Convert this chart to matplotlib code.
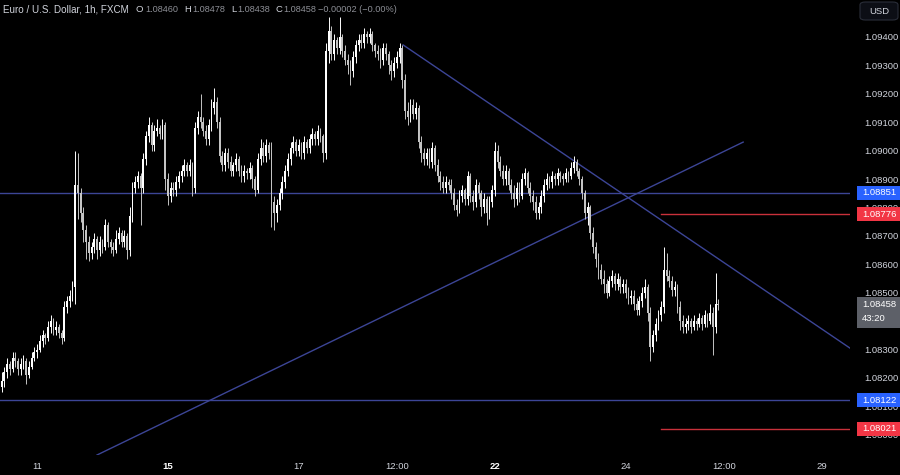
import numpy as np
import matplotlib.pyplot as plt
from matplotlib.patches import Rectangle, FancyBboxPatch

# EUR/USD 1h candles (open = previous close)
first_open = 1.0817
closes = [
    1.0819, 1.0822, 1.0825, 1.0823, 1.0827, 1.0826, 1.0823, 1.0825, 1.0826, 1.0821, 1.0824, 1.0827,
    1.0829, 1.0830, 1.0833, 1.0835, 1.0834, 1.0838, 1.0840, 1.0837, 1.0838, 1.0836, 1.0834, 1.0845,
    1.0847, 1.0849, 1.0852, 1.0888, 1.0885, 1.0878, 1.0872, 1.0868, 1.0864, 1.0866, 1.0869, 1.0865,
    1.0868, 1.0866, 1.0874, 1.0868, 1.0866, 1.0865, 1.0869, 1.0871, 1.0868, 1.0870, 1.0865, 1.0877,
    1.0887, 1.0889, 1.0891, 1.0887, 1.0897, 1.0905, 1.0909, 1.0902, 1.0907, 1.0908, 1.0906, 1.0909,
    1.0890, 1.0884, 1.0887, 1.0886, 1.0889, 1.0891, 1.0893, 1.0895, 1.0893, 1.0895, 1.0887, 1.0908,
    1.0912, 1.0910, 1.0907, 1.0904, 1.0909, 1.0915, 1.0917, 1.0910, 1.0898, 1.0895, 1.0899, 1.0896,
    1.0893, 1.0895, 1.0897, 1.0893, 1.0891, 1.0893, 1.0892, 1.0894, 1.0890, 1.0886, 1.0897, 1.0901,
    1.0898, 1.0902, 1.0899, 1.0882, 1.0878, 1.0881, 1.0885, 1.0889, 1.0893, 1.0897, 1.0901, 1.0903,
    1.0900, 1.0902, 1.0899, 1.0903, 1.0901, 1.0904, 1.0906, 1.0904, 1.0907, 1.0905, 1.0899, 1.0935,
    1.0942, 1.0934, 1.0939, 1.0936, 1.0940, 1.0935, 1.0932, 1.0930, 1.0928, 1.0933, 1.0937, 1.0939,
    1.0938, 1.0941, 1.0940, 1.0941, 1.0937, 1.0935, 1.0934, 1.0932, 1.0936, 1.0934, 1.0930, 1.0928,
    1.0931, 1.0933, 1.0936, 1.0925, 1.0914, 1.0912, 1.0916, 1.0913, 1.0915, 1.0903, 1.0899, 1.0897,
    1.0899, 1.0896, 1.0901, 1.0895, 1.0891, 1.0889, 1.0887, 1.0889, 1.0888, 1.0885, 1.0881, 1.0879,
    1.0884, 1.0886, 1.0883, 1.0891, 1.0884, 1.0882, 1.0888, 1.0885, 1.0880, 1.0883, 1.0878, 1.0882,
    1.0886, 1.0900, 1.0896, 1.0893, 1.0890, 1.0893, 1.0888, 1.0885, 1.0883, 1.0887, 1.0884, 1.0890,
    1.0892, 1.0887, 1.0884, 1.0882, 1.0878, 1.0880, 1.0884, 1.0888, 1.0890, 1.0889, 1.0891, 1.0890,
    1.0892, 1.0891, 1.0890, 1.0892, 1.0891, 1.0894, 1.0896, 1.0893, 1.0890, 1.0885, 1.0878, 1.0880,
    1.0871, 1.0866, 1.0862, 1.0858, 1.0855, 1.0853, 1.0850, 1.0854, 1.0856, 1.0853, 1.0855, 1.0852,
    1.0853, 1.0850, 1.0848, 1.0849, 1.0846, 1.0844, 1.0847, 1.0850, 1.0852, 1.0843, 1.0831, 1.0835,
    1.0839, 1.0842, 1.0845, 1.0858, 1.0856, 1.0854, 1.0851, 1.0852, 1.0845, 1.0840, 1.0838, 1.0839,
    1.0840, 1.0838, 1.0840, 1.0839, 1.0841, 1.0839, 1.0842, 1.0840, 1.0843, 1.0838, 1.0846, 1.08458,
]
highs = [
    1.0822, 1.0824, 1.0827, 1.0826, 1.0829, 1.0829, 1.0827, 1.0827, 1.0828, 1.0827, 1.0826, 1.0829,
    1.0831, 1.0832, 1.0835, 1.0837, 1.0836, 1.0840, 1.0842, 1.0841, 1.0840, 1.0839, 1.0837, 1.0847,
    1.0849, 1.0851, 1.0854, 1.0900, 1.0899, 1.0887, 1.0880, 1.0874, 1.0870, 1.0868, 1.0871, 1.0870,
    1.0870, 1.0869, 1.0876, 1.0875, 1.0869, 1.0868, 1.0872, 1.0873, 1.0872, 1.0872, 1.0871, 1.0880,
    1.0889, 1.0891, 1.0893, 1.0892, 1.0899, 1.0907, 1.0912, 1.0910, 1.0909, 1.0911, 1.0909, 1.0911,
    1.0910, 1.0892, 1.0889, 1.0889, 1.0891, 1.0893, 1.0895, 1.0897, 1.0896, 1.0897, 1.0896, 1.0910,
    1.0914, 1.0920, 1.0912, 1.0909, 1.0911, 1.0918, 1.0922, 1.0919, 1.0912, 1.0900, 1.0901, 1.0901,
    1.0898, 1.0896, 1.0899, 1.0898, 1.0895, 1.0895, 1.0894, 1.0896, 1.0895, 1.0891, 1.0899, 1.0904,
    1.0903, 1.0904, 1.0903, 1.0903, 1.0884, 1.0883, 1.0887, 1.0891, 1.0895, 1.0899, 1.0903, 1.0905,
    1.0904, 1.0904, 1.0903, 1.0905, 1.0904, 1.0906, 1.0908, 1.0907, 1.0909, 1.0908, 1.0906, 1.0938,
    1.0947, 1.0944, 1.0941, 1.0940, 1.0947, 1.0941, 1.0937, 1.0934, 1.0932, 1.0935, 1.0939, 1.0941,
    1.0941, 1.0943, 1.0942, 1.0943, 1.0942, 1.0938, 1.0937, 1.0936, 1.0938, 1.0938, 1.0935, 1.0932,
    1.0933, 1.0935, 1.0938, 1.0937, 1.0927, 1.0917, 1.0918, 1.0918, 1.0917, 1.0916, 1.0905, 1.0901,
    1.0901, 1.0901, 1.0903, 1.0902, 1.0897, 1.0893, 1.0891, 1.0891, 1.0890, 1.0890, 1.0887, 1.0883,
    1.0886, 1.0888, 1.0887, 1.0893, 1.0892, 1.0886, 1.0890, 1.0889, 1.0886, 1.0885, 1.0884, 1.0884,
    1.0888, 1.0903, 1.0902, 1.0898, 1.0895, 1.0895, 1.0894, 1.0890, 1.0888, 1.0889, 1.0889, 1.0892,
    1.0894, 1.0893, 1.0889, 1.0886, 1.0884, 1.0882, 1.0886, 1.0890, 1.0892, 1.0891, 1.0893, 1.0892,
    1.0894, 1.0893, 1.0892, 1.0894, 1.0893, 1.0896, 1.0898, 1.0897, 1.0894, 1.0891, 1.0886, 1.0882,
    1.0881, 1.0873, 1.0868, 1.0864, 1.0860, 1.0858, 1.0855, 1.0856, 1.0858, 1.0857, 1.0857, 1.0856,
    1.0855, 1.0855, 1.0852, 1.0851, 1.0851, 1.0848, 1.0849, 1.0852, 1.0855, 1.0853, 1.0845, 1.0837,
    1.0841, 1.0844, 1.0847, 1.0866, 1.0864, 1.0858, 1.0856, 1.0854, 1.0853, 1.0847, 1.0842, 1.0841,
    1.0842, 1.0841, 1.0842, 1.0841, 1.0843, 1.0842, 1.0844, 1.0843, 1.0846, 1.0845, 1.0857, 1.08478,
]
lows = [
    1.0815, 1.0817, 1.0820, 1.0821, 1.0822, 1.0824, 1.0821, 1.0821, 1.0823, 1.0818, 1.0820, 1.0823,
    1.0826, 1.0827, 1.0829, 1.0831, 1.0832, 1.0833, 1.0836, 1.0835, 1.0835, 1.0834, 1.0832, 1.0833,
    1.0843, 1.0845, 1.0847, 1.0846, 1.0876, 1.0875, 1.0868, 1.0862, 1.0861, 1.0862, 1.0864, 1.0862,
    1.0863, 1.0864, 1.0865, 1.0866, 1.0864, 1.0863, 1.0864, 1.0867, 1.0866, 1.0866, 1.0862, 1.0863,
    1.0875, 1.0885, 1.0887, 1.0874, 1.0885, 1.0895, 1.0903, 1.0900, 1.0900, 1.0905, 1.0904, 1.0904,
    1.0886, 1.0881, 1.0882, 1.0884, 1.0884, 1.0887, 1.0889, 1.0891, 1.0891, 1.0891, 1.0884, 1.0885,
    1.0906, 1.0908, 1.0905, 1.0902, 1.0902, 1.0907, 1.0913, 1.0908, 1.0896, 1.0893, 1.0893, 1.0894,
    1.0891, 1.0891, 1.0893, 1.0891, 1.0889, 1.0889, 1.0890, 1.0890, 1.0887, 1.0884, 1.0885, 1.0895,
    1.0896, 1.0896, 1.0897, 1.0873, 1.0872, 1.0875, 1.0879, 1.0883, 1.0887, 1.0891, 1.0895, 1.0899,
    1.0898, 1.0898, 1.0897, 1.0897, 1.0899, 1.0899, 1.0902, 1.0902, 1.0902, 1.0903, 1.0896, 1.0897,
    1.0931, 1.0932, 1.0932, 1.0934, 1.0934, 1.0933, 1.0930, 1.0927, 1.0923, 1.0926, 1.0931, 1.0935,
    1.0936, 1.0936, 1.0938, 1.0938, 1.0935, 1.0933, 1.0932, 1.0929, 1.0930, 1.0932, 1.0927, 1.0925,
    1.0926, 1.0929, 1.0931, 1.0922, 1.0911, 1.0909, 1.0910, 1.0911, 1.0911, 1.0901, 1.0896, 1.0895,
    1.0895, 1.0894, 1.0894, 1.0893, 1.0889, 1.0886, 1.0885, 1.0885, 1.0886, 1.0883, 1.0879, 1.0877,
    1.0878, 1.0882, 1.0881, 1.0881, 1.0882, 1.0879, 1.0880, 1.0883, 1.0877, 1.0878, 1.0874, 1.0876,
    1.0880, 1.0884, 1.0894, 1.0891, 1.0888, 1.0888, 1.0886, 1.0883, 1.0880, 1.0881, 1.0882, 1.0883,
    1.0888, 1.0885, 1.0882, 1.0879, 1.0876, 1.0876, 1.0878, 1.0882, 1.0886, 1.0887, 1.0887, 1.0888,
    1.0888, 1.0889, 1.0888, 1.0889, 1.0889, 1.0890, 1.0892, 1.0891, 1.0888, 1.0883, 1.0876, 1.0874,
    1.0869, 1.0864, 1.0859, 1.0855, 1.0853, 1.0850, 1.0848, 1.0849, 1.0852, 1.0851, 1.0851, 1.0850,
    1.0850, 1.0848, 1.0846, 1.0846, 1.0844, 1.0842, 1.0842, 1.0845, 1.0848, 1.0840, 1.0826, 1.0829,
    1.0833, 1.0837, 1.0840, 1.0843, 1.0854, 1.0852, 1.0849, 1.0849, 1.0843, 1.0837, 1.0836, 1.0836,
    1.0837, 1.0836, 1.0837, 1.0837, 1.0838, 1.0837, 1.0838, 1.0838, 1.0839, 1.0828, 1.0836, 1.08438,
]

# time axis (weekends removed, one slot per hour)
day_ticks = [13, 61, 109, 145, 181, 229, 265, 301]
day_labels = ["11", "15", "17", "12:00", "22", "24", "12:00", "29"]
week_starts = ["15", "22"]

price_ticks = [1.080, 1.081, 1.082, 1.083, 1.084, 1.085, 1.086, 1.087,
               1.088, 1.089, 1.090, 1.091, 1.092, 1.093, 1.094]

# drawings
blue_levels = [1.08851, 1.08122]
red_levels = [1.08776, 1.08021]
red_start = 242
desc_x, desc_y = [147.3, 311.3], [1.09372, 1.08305]
asc_x, asc_y = [35.0, 272.1], [1.07929, 1.09030]
last_price = 1.08458
countdown = "43:20"

W, H = 900, 475
PLOT_W, PLOT_H = 850, 455
ymin, ymax = 1.07929, 1.09530
xmin, xmax = -0.6, 311.3

bg = "#000000"
txt = "#d1d4dc"
navy = "#3c4596"
red = "#c9313b"
plt.rcParams["font.family"] = ["Liberation Sans", "DejaVu Sans"]

fig = plt.figure(figsize=(W / 100, H / 100), dpi=100, facecolor=bg)
ax = fig.add_axes([0, 1 - PLOT_H / H, PLOT_W / W, PLOT_H / H], facecolor=bg)

c = np.array(closes)
o = np.concatenate([[first_open], c[:-1]])
hi = np.maximum(np.array(highs), np.maximum(o, c))
lo = np.minimum(np.array(lows), np.minimum(o, c))
idx = np.arange(len(c))
up = c >= o
cols = np.where(up, "#ffffff", "#c4c4c4")

ax.vlines(idx, lo, hi, colors=cols, linewidth=0.7, zorder=3)
body = np.maximum(np.abs(c - o), 0.00002)
ax.bar(idx, body, bottom=np.minimum(o, c), width=0.66, color=cols,
       linewidth=0, zorder=4)

for lvl in blue_levels:
    ax.axhline(lvl, color=navy, linewidth=1.0, zorder=2)
for lvl in red_levels:
    ax.plot([red_start, xmax], [lvl, lvl], color=red, linewidth=1.0, zorder=2)
ax.plot(desc_x, desc_y, color=navy, linewidth=1.0, zorder=2)
ax.plot(asc_x, asc_y, color=navy, linewidth=1.0, zorder=2)

ax.set_xlim(xmin, xmax)
ax.set_ylim(ymin, ymax)
for s in ax.spines.values():
    s.set_visible(False)

ax.yaxis.tick_right()
ax.set_yticks(price_ticks)
ax.set_yticklabels(["%.5f" % p for p in price_ticks])
ax.tick_params(axis="y", length=0, pad=10, labelsize=6.8, labelcolor=txt)
ax.set_xticks(day_ticks)
ax.set_xticklabels(day_labels)
ax.tick_params(axis="x", length=0, pad=5, labelsize=6.8, labelcolor=txt)
for lab in ax.get_xticklabels():
    if lab.get_text() in week_starts:
        lab.set_fontweight("bold")
        lab.set_color("#ffffff")


def py(price):
    return (ymax - price) / (ymax - ymin) * PLOT_H


def box(price, color, text, h=14, extra=None):
    y = py(price)
    top = y - h / 2 if extra is None else y - 8
    height = h if extra is None else 31
    fig.patches.append(Rectangle((857 / W, 1 - (top + height) / H), 43 / W, height / H,
                                 transform=fig.transFigure, facecolor=color,
                                 edgecolor="none", zorder=5))
    fig.text(862 / W, 1 - y / H, text, color="#ffffff", fontsize=6.8,
             va="center", ha="left", zorder=6)
    if extra is not None:
        fig.text(862 / W, 1 - (y + 14) / H, extra, color="#ffffff", fontsize=6.8,
                 va="center", ha="left", zorder=6)


box(blue_levels[0], "#2962ff", "%.5f" % blue_levels[0])
box(blue_levels[1], "#2962ff", "%.5f" % blue_levels[1])
box(red_levels[0], "#f23645", "%.5f" % red_levels[0])
box(red_levels[1], "#f23645", "%.5f" % red_levels[1])
box(last_price, "#5d6068", "%.5f" % last_price, extra=countdown)

# currency button
fig.patches.append(FancyBboxPatch((860 / W, 1 - 20 / H), 38 / W, 18 / H,
                                  boxstyle="round,pad=0,rounding_size=0.006",
                                  transform=fig.transFigure, facecolor="#0c0e15",
                                  edgecolor="#2a2e39", linewidth=0.8, zorder=5))
fig.text(879 / W, 1 - 11 / H, "USD", color=txt, fontsize=6.8, ha="center",
         va="center", zorder=6)

# legend line
ty = 1 - 10 / H
grey = "#8d8f96"
head = [(3, "Euro / U.S. Dollar, 1h, FXCM", txt, 7.1),
        (136, "O", txt, 6.8), (145, "%.5f" % o[-1], grey, 6.6),
        (184, "H", txt, 6.8), (192, "%.5f" % highs[-1], grey, 6.6),
        (231, "L", txt, 6.8), (237, "%.5f" % lows[-1], grey, 6.6),
        (276, "C", txt, 6.8), (283, "%.5f" % closes[-1], grey, 6.6),
        (318, "\u22120.00002 (\u22120.00%)", grey, 6.6)]
for x, s, col, fs in head:
    fig.text(x / W, ty, s, color=col, fontsize=fs, ha="left", va="center")

fig.savefig("out.png", dpi=100, facecolor=bg)
